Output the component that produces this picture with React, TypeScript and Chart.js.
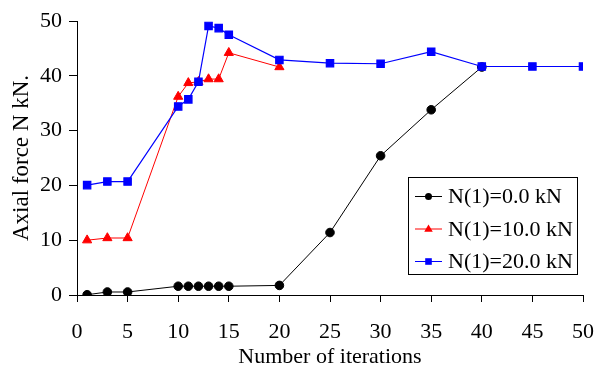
import React, { useEffect, useRef } from 'react';
import { Chart, registerables } from 'chart.js';

Chart.register(...registerables);

// ---- data ----
const seriesLabels = ['N(1)=0.0 kN', 'N(1)=10.0 kN', 'N(1)=20.0 kN'];
const seriesColors = ['#000000', '#ff0000', '#0000ff'];

const iter0 = [1, 3, 5, 10, 11, 12, 13, 14, 15, 20, 25, 30, 35, 40];
const force0 = [0.05, 0.55, 0.55, 1.6, 1.6, 1.6, 1.6, 1.6, 1.6, 1.75, 11.4, 25.4, 33.8, 41.6];

const iter10 = [1, 3, 5, 10, 11, 12, 13, 14, 15, 20];
const force10 = [10.0, 10.4, 10.4, 36.2, 38.7, 38.9, 39.4, 39.4, 44.2, 41.6];

const iter20 = [1, 3, 5, 10, 11, 12, 13, 14, 15, 20, 25, 30, 35, 40, 45, 50];
const force20 = [20.05, 20.7, 20.7, 34.4, 35.7, 38.9, 49.1, 48.7, 47.5, 42.9, 42.3, 42.2, 44.4, 41.7, 41.7, 41.7];

const xMin = 0, xMax = 50, xStep = 5;
const yMin = 0, yMax = 50, yStep = 10;
const xTitle = 'Number of iterations';
const yTitle = 'Axial force N kN.';

const FONT = '"Liberation Serif", "Times New Roman", serif';

function pts(xs: number[], ys: number[]) {
  return xs.map((x, i) => ({ x, y: ys[i] }));
}

function drawMarker(ctx: CanvasRenderingContext2D, style: string, x: number, y: number, r: number, color: string) {
  ctx.fillStyle = color;
  ctx.beginPath();
  if (style === 'circle') {
    ctx.arc(x, y, r, 0, Math.PI * 2);
  } else if (style === 'triangle') {
    ctx.moveTo(x, y - r);
    ctx.lineTo(x + r * 0.95, y + r * 0.6);
    ctx.lineTo(x - r * 0.95, y + r * 0.6);
    ctx.closePath();
  } else {
    ctx.rect(x - r, y - r, 2 * r, 2 * r);
  }
  ctx.fill();
}

const overlayPlugin = {
  id: 'overlay',
  afterDraw(chart: any) {
    const ctx: CanvasRenderingContext2D = chart.ctx;
    const area = chart.chartArea;
    ctx.save();
    // y-axis title, centred on the plot area
    ctx.translate(22, (area.top + area.bottom) / 2);
    ctx.rotate(-Math.PI / 2);
    ctx.fillStyle = '#000';
    ctx.font = `23px ${FONT}`;
    ctx.textAlign = 'center';
    ctx.textBaseline = 'middle';
    ctx.fillText(yTitle, 0, 0);
    ctx.restore();

    // legend box
    ctx.save();
    const bx = 408.5, by = 177.5, bw = 169, bh = 97;
    ctx.fillStyle = '#fff';
    ctx.fillRect(bx, by, bw, bh);
    ctx.strokeStyle = '#000';
    ctx.lineWidth = 1;
    ctx.strokeRect(bx, by, bw, bh);
    ctx.font = `22px ${FONT}`;
    ctx.textAlign = 'left';
    ctx.textBaseline = 'middle';
    chart.data.datasets.forEach((ds: any, i: number) => {
      const y = 196.5 + i * 32.5;
      ctx.strokeStyle = ds.borderColor;
      ctx.lineWidth = 1;
      ctx.beginPath();
      ctx.moveTo(415, y);
      ctx.lineTo(442, y);
      ctx.stroke();
      const r = ds.pointStyle === 'circle' ? 3.5 : ds.pointStyle === 'triangle' ? 4.5 : 3.3;
      drawMarker(ctx, ds.pointStyle, 428.5, y, r, ds.borderColor);
      ctx.fillStyle = '#000';
      ctx.fillText(ds.label, 448, y + 1);
    });
    ctx.restore();
  },
};

export default function App() {
  const canvasRef = useRef<HTMLCanvasElement | null>(null);

  useEffect(() => {
    document.body.style.margin = '0';
    const canvas = canvasRef.current;
    if (!canvas) return;
    const chart = new Chart(canvas, {
      type: 'line',
      data: {
        datasets: [
          {
            label: seriesLabels[0],
            data: pts(iter0, force0),
            borderColor: seriesColors[0],
            backgroundColor: seriesColors[0],
            pointBackgroundColor: seriesColors[0],
            pointBorderColor: seriesColors[0],
            pointStyle: 'circle',
            pointRadius: 4.3,
            borderWidth: 1,
            order: 3,
          },
          {
            label: seriesLabels[1],
            data: pts(iter10, force10),
            borderColor: seriesColors[1],
            backgroundColor: seriesColors[1],
            pointBackgroundColor: seriesColors[1],
            pointBorderColor: seriesColors[1],
            pointStyle: 'triangle',
            pointRadius: 5.3,
            borderWidth: 1,
            order: 2,
          },
          {
            label: seriesLabels[2],
            data: pts(iter20, force20),
            borderColor: seriesColors[2],
            backgroundColor: seriesColors[2],
            pointBackgroundColor: seriesColors[2],
            pointBorderColor: seriesColors[2],
            pointStyle: 'rect',
            pointRadius: 5.2,
            borderWidth: 1.2,
            order: 1,
          },
        ],
      },
      options: {
        responsive: false,
        animation: false,
        devicePixelRatio: 1,
        layout: { padding: { top: 21, right: 19, left: 0, bottom: 0 } },
        plugins: {
          legend: { display: false },
          tooltip: { enabled: false },
        },
        elements: { line: { tension: 0 }, point: { borderWidth: 1 } },
        scales: {
          x: {
            type: 'linear',
            min: xMin,
            max: xMax,
            ticks: {
              stepSize: xStep,
              color: '#000',
              font: { size: 22, family: FONT },
              padding: 17,
              maxRotation: 0,
              autoSkip: false,
            },
            grid: {
              display: true,
              drawOnChartArea: false,
              drawTicks: true,
              tickLength: 7,
              color: '#000',
              tickColor: '#000',
            },
            border: { display: true, color: '#000', width: 1 },
            title: {
              display: true,
              text: xTitle,
              color: '#000',
              font: { size: 22, family: FONT },
              padding: { top: 0, bottom: 4 },
            },
            afterFit(scale: any) {
              scale.height = 79;
              scale.paddingLeft = 0;
              scale.paddingRight = 0;
            },
          },
          y: {
            type: 'linear',
            min: yMin,
            max: yMax,
            ticks: {
              stepSize: yStep,
              color: '#000',
              font: { size: 22, family: FONT },
              padding: 7,
            },
            grid: {
              display: true,
              drawOnChartArea: false,
              drawTicks: true,
              tickLength: 8,
              color: '#000',
              tickColor: '#000',
            },
            border: { display: true, color: '#000', width: 1 },
            afterFit(scale: any) {
              scale.width = 77;
              scale.paddingTop = 0;
              scale.paddingBottom = 0;
            },
          },
        },
      },
      plugins: [overlayPlugin],
    } as any);
    return () => chart.destroy();
  }, []);

  return (
    <div style={{ width: 602, height: 374 }}>
      <canvas ref={canvasRef} width={602} height={374} style={{ display: 'block' }} />
    </div>
  );
}
